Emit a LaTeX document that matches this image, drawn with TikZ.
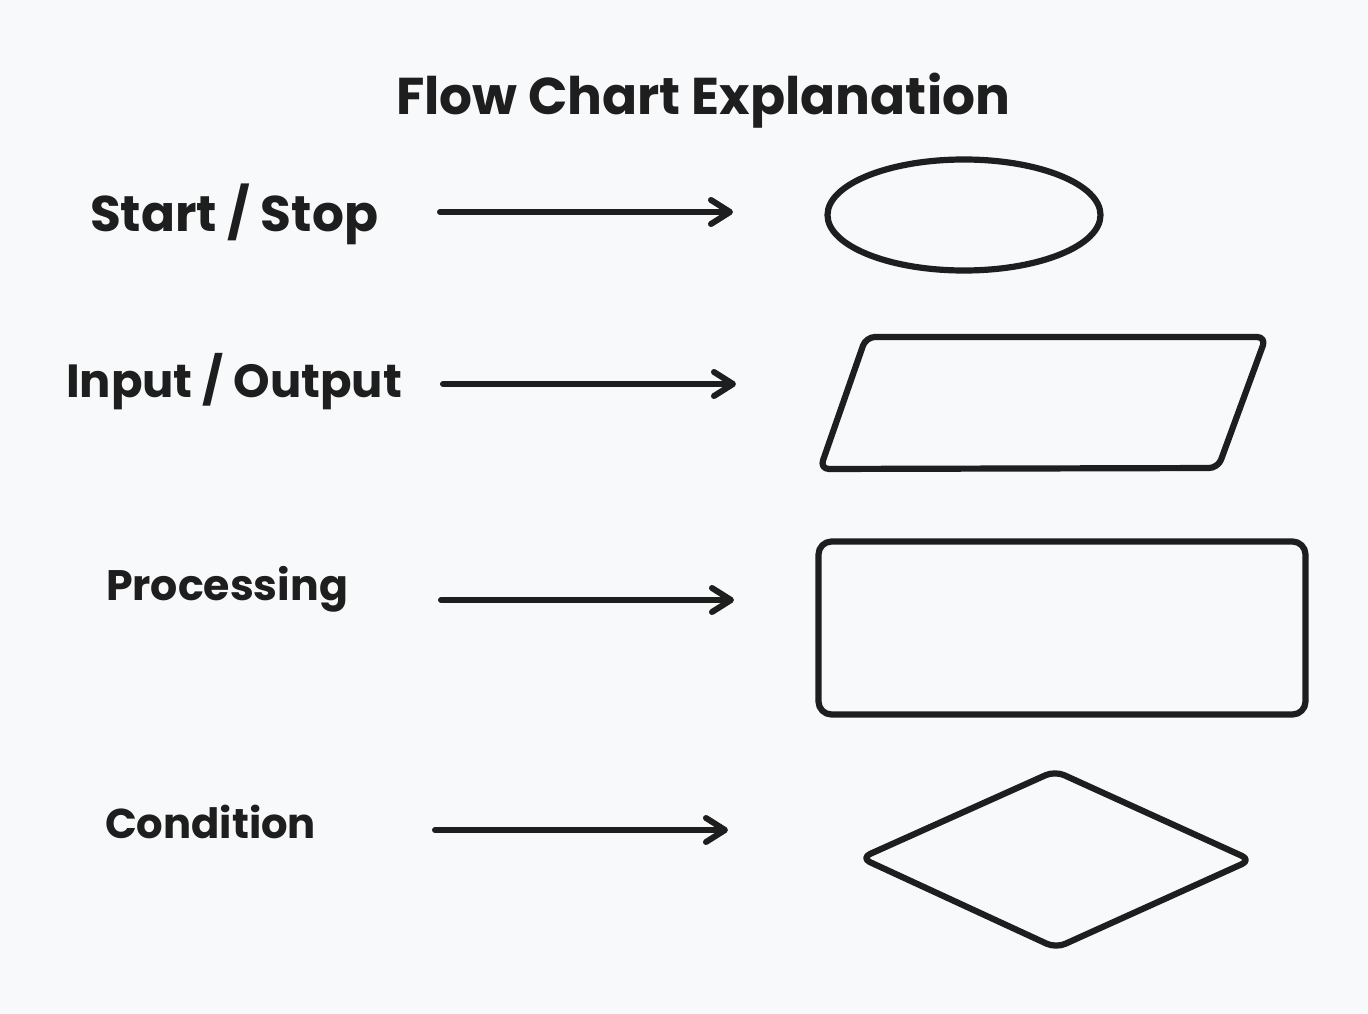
\documentclass[tikz,border=0pt]{standalone}
\usepackage{fontspec}
\setmainfont{Poppins}
\usetikzlibrary{arrows.meta,shapes.geometric}
\definecolor{ink}{HTML}{1E1E1E}
\definecolor{bgc}{HTML}{F8F9FA}
\newcommand\fitw[2]{\resizebox{#1}{!}{#2}}
\tikzset{
  lbl/.style={anchor=base west, inner sep=0pt, outer sep=0pt, text=ink, font=\bfseries},
  shp/.style={draw=ink, line width=6.2pt, line join=round},
  arr/.style={draw=ink, line width=6pt, line cap=round,
              -{Straight Barb[length=19pt,width=24pt,round]}},
}
\begin{document}
\begin{tikzpicture}[x=1pt,y=-1pt]
\fill[bgc] (0,0) rectangle (1368,1014);
\useasboundingbox (0,0) rectangle (1368,1014);

% texts
\node[lbl] (title) at (396,115) {\fitw{614pt}{Flow Chart Explanation}};
\node[lbl] (tstart) at (90,231) {\fitw{288pt}{Start / Stop}};
\node[lbl] (tio) at (66,397) {\fitw{336pt}{Input / Output}};
\node[lbl] (tproc) at (106,600) {\fitw{242pt}{Processing}};
\node[lbl] (tcond) at (105,838) {\fitw{211pt}{Condition}};

% shapes
\node[shp, ellipse, minimum width=273pt, minimum height=111pt, inner sep=0pt] (term) at (964,215) {};
\coordinate (ioA) at (820,469);
\coordinate (ioB) at (866,337);
\coordinate (ioC) at (1266,337);
\coordinate (ioD) at (1218,468);
\draw[shp, rounded corners=9pt] (ioA) -- (ioB) -- (ioC) -- (ioD) -- cycle;
\node[shp, rectangle, rounded corners=13pt, minimum width=487pt, minimum height=173pt, inner sep=0pt] (proc) at (1062,628) {};
\coordinate (dL) at (861,858);
\coordinate (dT) at (1055,771);
\coordinate (dR) at (1251,860);
\coordinate (dB) at (1056,948);
\draw[shp, rounded corners=10pt] (dL) -- (dT) -- (dR) -- (dB) -- cycle;

% arrows
\coordinate (a1s) at (440,212); \coordinate (a1e) at (733,212);
\coordinate (a2s) at (443,384); \coordinate (a2e) at (736,384);
\coordinate (a3s) at (441,600); \coordinate (a3e) at (734,600);
\coordinate (a4s) at (435,830); \coordinate (a4e) at (728,830);
\draw[arr] (a1s) -- (a1e);
\draw[arr] (a2s) -- (a2e);
\draw[arr] (a3s) -- (a3e);
\draw[arr] (a4s) -- (a4e);
\end{tikzpicture}
\end{document}
